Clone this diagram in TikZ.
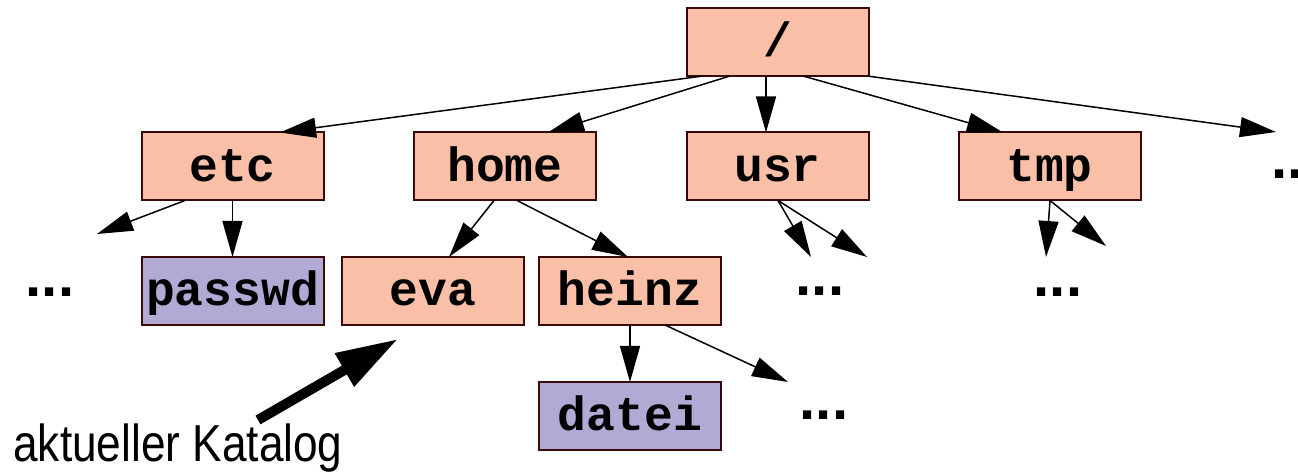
\documentclass[tikz,border=0pt]{standalone}
\usepackage{fontspec}
\setmainfont{Liberation Sans}
\setmonofont{Liberation Mono}
\newfontfamily\narrowsf[FakeStretch=0.85]{Liberation Sans}
\usetikzlibrary{arrows.meta,calc}

\definecolor{cf9bfa7}{RGB}{249,191,167}
\definecolor{cb0aad4}{RGB}{176,170,212}
\definecolor{c3a0a0a}{RGB}{58,10,10}

\tikzset{
  dirbox/.style={draw=c3a0a0a, fill=cf9bfa7, line width=1pt, minimum width=91pt,
    minimum height=34pt, inner sep=0pt, outer sep=0pt, text height=17pt, text depth=2pt,
    font=\ttfamily\bfseries\fontsize{24}{28}\selectfont},
  filebox/.style={dirbox, fill=cb0aad4},
  more/.style={anchor=base, inner sep=0pt, font=\bfseries\fontsize{29}{32}\selectfont},
  link/.style={draw=black, line width=0.75pt, -{Triangle[length=18pt,width=10pt]}},
  pointer/.style={draw=black, line width=5pt, -{Triangle[length=31pt,width=18pt]}}
}

\begin{document}
\begin{tikzpicture}[y=0.50pt, x=0.50pt, yscale=-1.000000, xscale=1.000000]
\useasboundingbox (0,0) rectangle (1298,474);

% directories and files
\node[dirbox] (root) at (777.5,42) {/};
\node[dirbox] (etc) at (232.5,166.5) {etc};
\node[dirbox] (home) at (505,166.5) {home};
\node[dirbox] (usr) at (777.5,166.5) {usr};
\node[dirbox] (tmp) at (1049.5,166.5) {tmp};
\node[filebox] (passwd) at (232.5,291) {passwd};
\node[dirbox] (eva) at (433,291) {eva};
\node[dirbox] (heinz) at (630,291) {heinz};
\node[filebox] (datei) at (630,416) {datei};

% further entries
\node[more] (etcdots) at (50,297) {...};
\node[more] (usrdots) at (820,296) {...};
\node[more] (tmpdots) at (1058,297) {...};
\node[more] (heinzdots) at (824,420) {...};
\node[more] (rootdots) at (1296,179) {...};

% free arrow ends
\coordinate (rootmore) at (1276,132);
\coordinate (etcmore) at (97,234);
\coordinate (usrA) at (811,257);
\coordinate (usrB) at (867,257);
\coordinate (tmpA) at (1046,257);
\coordinate (tmpB) at (1106,246);
\coordinate (heinzmore) at (788,382);

% links
\draw[link] ($(root.south)+(-74.5,0)$) -- ($(etc.north)+(47.5,0)$);
\draw[link] ($(root.south)+(-47.5,0)$) -- ($(home.north)+(43,0)$);
\draw[link] ($(root.south)+(-11.5,0)$) -- ($(usr.north)+(-11.5,0)$);
\draw[link] ($(root.south)+(25.5,0)$) -- ($(tmp.north)+(-46.5,0)$);
\draw[link] ($(root.south)+(89.5,0)$) -- (rootmore);
\draw[link] ($(etc.south)+(-47.5,0)$) -- (etcmore);
\draw[link] (etc.south) -- (passwd.north);
\draw[link] ($(home.south)+(-11,0)$) -- ($(eva.north)+(16,0)$);
\draw[link] ($(home.south)+(12,0)$) -- ($(heinz.north)+(-2,0)$);
\draw[link] ($(usr.south)+(0.5,0)$) -- (usrA);
\draw[link] ($(usr.south)+(0.5,0)$) -- (usrB);
\draw[link] ($(tmp.south)+(0.5,0)$) -- (tmpA);
\draw[link] ($(tmp.south)+(0.5,0)$) -- (tmpB);
\draw[link] (heinz.south) -- (datei.north);
\draw[link] ($(heinz.south)+(35,0)$) -- (heinzmore);

% current directory
\node[anchor=base west, inner sep=0pt, font=\narrowsf\fontsize{26}{30}\selectfont]
  (cwd) at (13,462) {aktueller Katalog};
\coordinate (cwdtail) at (258,420);
\coordinate (cwdtip) at (398,339);
\draw[pointer] (cwdtail) -- (cwdtip);

\end{tikzpicture}
\end{document}
